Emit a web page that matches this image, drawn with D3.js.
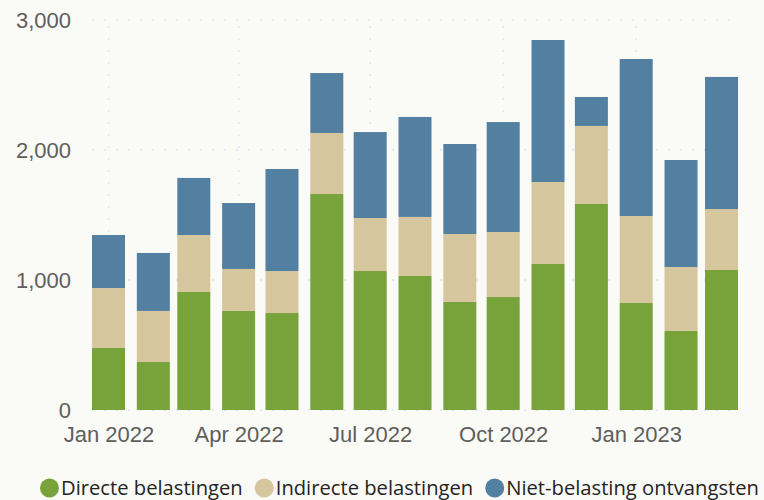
<!DOCTYPE html>
<html>
<head>
<meta charset="utf-8">
<script src="https://cdn.jsdelivr.net/npm/d3@7"></script>
<style>
  html, body { margin: 0; padding: 0; background: #fafaf7; }
  svg { display: block; font-family: "Open Sans", "Noto Sans", sans-serif; }
</style>
</head>
<body>
<div id="chart"></div>
<script>
const WIDTH = 764, HEIGHT = 500;

const months = ["2022-01", "2022-02", "2022-03", "2022-04", "2022-05", "2022-06", "2022-07",
  "2022-08", "2022-09", "2022-10", "2022-11", "2022-12", "2023-01", "2023-02", "2023-03"];
const direct = [477, 369, 908, 762, 746, 1662, 1069, 1031, 831, 869, 1123, 1585, 823, 608, 1077];
const indirect = [461, 393, 438, 323, 323, 469, 408, 454, 523, 500, 631, 600, 669, 492, 469];
const nonTax = [408, 446, 439, 507, 785, 461, 661, 769, 692, 846, 1092, 223, 1208, 823, 1016];
const seriesNames = ["Directe belastingen", "Indirecte belastingen", "Niet-belasting ontvangsten"];
const seriesColors = ["#78a23a", "#d5c69e", "#537fa0"];
const yTicks = [0, 1000, 2000, 3000];

const parse = d3.utcParse("%Y-%m");
const rows = months.map((m, i) => ({
  date: parse(m),
  [seriesNames[0]]: direct[i],
  [seriesNames[1]]: indirect[i],
  [seriesNames[2]]: nonTax[i]
}));

const BAR_W = 33;
const x = d3.scaleUtc()
  .domain([rows[0].date, rows[rows.length - 1].date])
  .range([108.5, 721.5]);
const y = d3.scaleLinear().domain([0, 3000]).range([410, 20]);

const plotLeft = x.range()[0] - BAR_W / 2,
  plotRight = x.range()[1] + BAR_W / 2;

const svg = d3.select("#chart").append("svg")
  .attr("width", WIDTH)
  .attr("height", HEIGHT);

svg.append("rect")
  .attr("width", WIDTH).attr("height", HEIGHT)
  .attr("fill", "#fafaf7");

const grid = svg.append("g")
  .attr("stroke", "#e6e6f2")
  .attr("stroke-width", 2)
  .attr("stroke-dasharray", "2 10");

grid.selectAll("line.h")
  .data(yTicks)
  .enter().append("line")
  .attr("class", "h")
  .attr("x1", plotLeft).attr("x2", plotRight)
  .attr("y1", (d) => y(d)).attr("y2", (d) => y(d));

const xTicks = x.ticks(d3.utcMonth.every(3));
grid.selectAll("line.v")
  .data(xTicks)
  .enter().append("line")
  .attr("class", "v")
  .attr("x1", (d) => x(d)).attr("x2", (d) => x(d))
  .attr("y1", y(3000) + 6).attr("y2", y(0));

// gestapelde balken
const stack = d3.stack().keys(seriesNames);
const layers = stack(rows);

svg.append("g").selectAll("g")
  .data(layers)
  .enter().append("g")
  .attr("fill", (d, i) => seriesColors[i])
  .selectAll("rect")
  .data((d) => d)
  .enter().append("rect")
  .attr("x", (d) => x(d.data.date) - BAR_W / 2)
  .attr("width", BAR_W)
  .attr("y", (d) => y(d[1]))
  .attr("height", (d) => y(d[0]) - y(d[1]));

// y-as
const yAxis = svg.append("g")
  .attr("transform", "translate(71,0)")
  .call(d3.axisLeft(y).tickValues(yTicks).tickFormat(d3.format(",")).tickSize(0).tickPadding(0));
yAxis.select(".domain").remove();
yAxis.selectAll("text")
  .attr("fill", "#605e5c")
  .style("font-size", "22px");

// x-as
const xAxis = svg.append("g")
  .attr("transform", `translate(0,${y(0)})`)
  .call(d3.axisBottom(x).tickValues(xTicks).tickFormat(d3.utcFormat("%b %Y")).tickSize(0).tickPadding(0));
xAxis.select(".domain").remove();
xAxis.selectAll("text")
  .attr("fill", "#605e5c")
  .attr("dy", null)
  .attr("y", 32)
  .style("font-size", "22px");

// legenda
const legend = svg.append("g").attr("transform", "translate(40,488)");
let lx = 0;
seriesNames.forEach((name, i) => {
  const item = legend.append("g").attr("transform", `translate(${lx},0)`);
  item.append("circle")
    .attr("cx", 9.5).attr("cy", 0).attr("r", 9.5)
    .attr("fill", seriesColors[i]);
  const t = item.append("text")
    .attr("x", 21)
    .attr("y", 0)
    .attr("dy", "0.35em")
    .attr("fill", "#252423")
    .style("font-size", "20.2px")
    .text(name);
  lx += 21 + t.node().getComputedTextLength() + 12;
});
</script>
</body>
</html>
